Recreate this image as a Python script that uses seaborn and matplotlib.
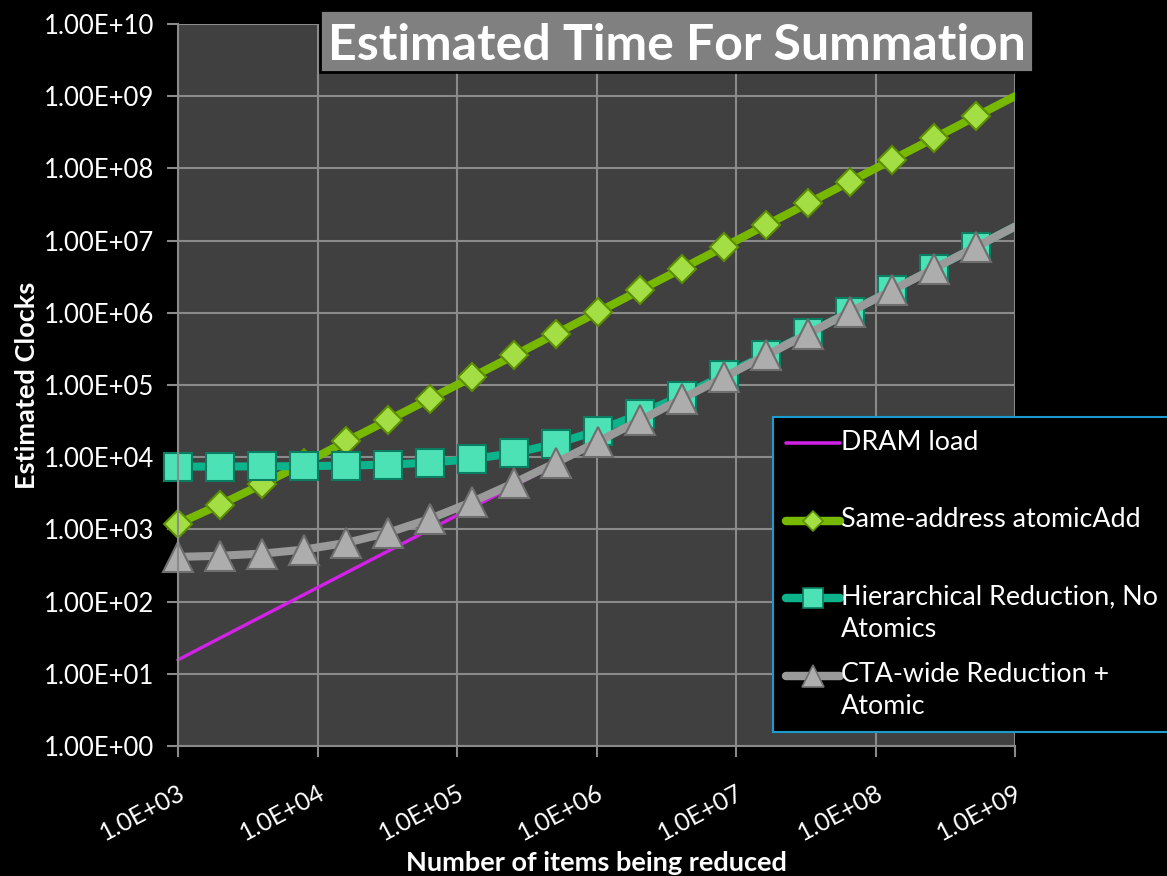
import matplotlib
matplotlib.use("Agg")
import matplotlib.pyplot as plt
import seaborn as sns
import pandas as pd
from matplotlib.lines import Line2D
from matplotlib.patches import Rectangle
from matplotlib.transforms import Bbox, TransformedBbox
from matplotlib.legend_handler import HandlerLine2D

# ---- data ----
items = [1000, 2000, 4000, 8000, 16000, 32000, 64000, 128000, 256000, 512000,
         1024000, 2048000, 4096000, 8192000, 16384000, 32768000, 65536000,
         131072000, 262144000, 524288000, 1048576000]
dram_load = [15.6, 31.3, 62.5, 125, 250, 500, 1000, 2000, 4000, 8000, 16000,
             32000, 64000, 128000, 256000, 512000, 1024000, 2048000, 4096000,
             8192000, 16384000]
same_address = [1200, 2200, 4200, 8200, 16500, 32500, 64500, 128500, 257000,
                513000, 1025000, 2049000, 4097000, 8193000, 16390000, 32770000,
                65540000, 131100000, 262200000, 524300000, 1048600000]
hierarchical = [7400, 7430, 7460, 7520, 7650, 7900, 8400, 9400, 11400, 15400,
                23400, 39400, 71400, 135400, 263400, 519400, 1031000, 2055000,
                4103000, 8199000, 16390000]
cta_wide = [416, 431, 462, 525, 650, 900, 1400, 2400, 4400, 8400, 16400, 32400,
            64400, 128400, 256400, 512400, 1024400, 2048400, 4096400, 8192400,
            16384400]
series_names = ["DRAM load", "Same-address atomicAdd",
                "Hierarchical Reduction, No\nAtomics",
                "CTA-wide Reduction +\nAtomic"]
x_ticks = [1e3, 1e4, 1e5, 1e6, 1e7, 1e8, 1e9]
x_tick_labels = ["1.0E+03", "1.0E+04", "1.0E+05", "1.0E+06", "1.0E+07", "1.0E+08", "1.0E+09"]
y_ticks = [1e0, 1e1, 1e2, 1e3, 1e4, 1e5, 1e6, 1e7, 1e8, 1e9, 1e10]
y_tick_labels = ["1.00E+00", "1.00E+01", "1.00E+02", "1.00E+03", "1.00E+04", "1.00E+05",
                 "1.00E+06", "1.00E+07", "1.00E+08", "1.00E+09", "1.00E+10"]
title = "Estimated Time For Summation"

sns.set_theme(style="dark")
plt.rcParams['font.family'] = ['Lato', 'DejaVu Sans']

fig = plt.figure(figsize=(11.67, 8.76), dpi=100, facecolor="black")
ax = fig.add_axes([178/1167, 1-746/876, (1015-178)/1167, (746-24)/876])
ax.set_facecolor("#404040")

styles = [
    dict(color="#D321E8", lw=2.4, marker=None),
    dict(color="#76B900", lw=5.8, marker="D", ms=14, mfc="#A2DE44", mec="#5C8F00", mew=1.5),
    dict(color="#0DB38A", lw=5.8, marker="s", ms=20, mfc="#4CE2B6", mec="#0B7D60", mew=1.5),
    dict(color="#9A9A9A", lw=5.8, marker="^", ms=22, mfc="#ADADAD", mec="#6E6E6E", mew=1.5),
]
all_series = [dram_load, same_address, hierarchical, cta_wide]
clip = TransformedBbox(Bbox([[-0.06, -0.05], [1.0, 1.05]]), ax.transAxes)
proxies = []
for name, vals, st in zip(series_names, all_series, styles):
    df = pd.DataFrame({"items": items, "clocks": vals})
    kw = dict(color=st["color"], linewidth=st["lw"])
    if st["marker"]:
        kw.update(marker=st["marker"], markersize=st["ms"], markerfacecolor=st["mfc"],
                  markeredgecolor=st["mec"], markeredgewidth=st["mew"],
                  markevery=list(range(len(items) - 1)))
    sns.lineplot(data=df, x="items", y="clocks", ax=ax, legend=False, **kw)
    line = ax.get_lines()[-1]
    line.set_clip_path(None)
    line.set_clip_box(clip)
    pkw = dict(color=st["color"], linewidth=st["lw"] * 1.05, solid_capstyle="round")
    if st["marker"]:
        pkw.update(marker=st["marker"], markersize=st["ms"] * 0.72,
                   markerfacecolor=st["mfc"], markeredgecolor=st["mec"],
                   markeredgewidth=1.2)
    proxies.append(Line2D([], [], **pkw))

ax.set_xscale("log")
ax.set_yscale("log")
ax.set_xlim(1e3, 1e9)
ax.set_ylim(1e0, 1e10)
ax.set_xticks(x_ticks)
ax.set_xticklabels(x_tick_labels)
ax.set_yticks(y_ticks)
ax.set_yticklabels(y_tick_labels)
ax.minorticks_off()
ax.grid(True, which="major", color="#8A8A8A", linewidth=1.5)
for s in ["top", "right"]:
    ax.spines[s].set_visible(False)
for s in ["left", "bottom"]:
    ax.spines[s].set_visible(True)
    ax.spines[s].set_color("#8A8A8A")
    ax.spines[s].set_linewidth(1.5)
ax.tick_params(axis="both", which="major", direction="out", length=8, width=1.5,
               color="#8A8A8A", labelcolor="white", left=True, bottom=True)
ax.tick_params(axis="y", pad=9, labelsize=18.5)
ax.tick_params(axis="x", pad=17, labelsize=18)
for lab in ax.get_xticklabels():
    lab.set_rotation(28)
    lab.set_ha("right")
    lab.set_va("top")
    lab.set_rotation_mode("anchor")

ax.set_xlabel("Number of items being reduced", color="white", fontsize=19.5,
              fontweight="bold")
ax.set_ylabel("Estimated Clocks", color="white", fontsize=19.5, fontweight="bold")
ax.xaxis.set_label_coords(0.5, -0.145)
ax.yaxis.set_label_coords(-0.166, 0.5)


class ShiftedHandler(HandlerLine2D):
    def __init__(self, shift, **kw):
        super().__init__(**kw)
        self.shift = shift

    def create_artists(self, legend, orig_handle, xdescent, ydescent, width,
                       height, fontsize, trans):
        return super().create_artists(legend, orig_handle, xdescent,
                                      ydescent - 2 * self.shift, width, height,
                                      fontsize, trans)


leg_labels = [n if "\n" in n else n + "\n " for n in series_names]
leg_fs = 19.4
leg = fig.legend(proxies, leg_labels, loc="upper left",
                 bbox_to_anchor=(773/1167, 0, 0.5, 1-417/876),
                 mode="expand", frameon=True, fontsize=leg_fs, labelcolor="white",
                 facecolor="black", edgecolor="#1A9CD0", framealpha=1,
                 handlelength=2.0, handletextpad=0.05, labelspacing=0.76,
                 borderpad=0.47, borderaxespad=0, fancybox=False,
                 handler_map={Line2D: ShiftedHandler(shift=11.2)})
leg.get_frame().set_linewidth(1.5)
for t in leg.get_texts():
    t.set_linespacing(1.35)

fig.patches.append(Rectangle((320/1167, 1-72/876), 713/1167, 62/876,
                             transform=fig.transFigure, facecolor="#808080",
                             edgecolor="black", linewidth=2, zorder=2))
fig.text(677/1167, 1-60/876, title, ha="center", va="baseline", color="white",
         fontsize=36, fontweight="bold", zorder=3)

fig.savefig("out.png", dpi=100, facecolor="black")
